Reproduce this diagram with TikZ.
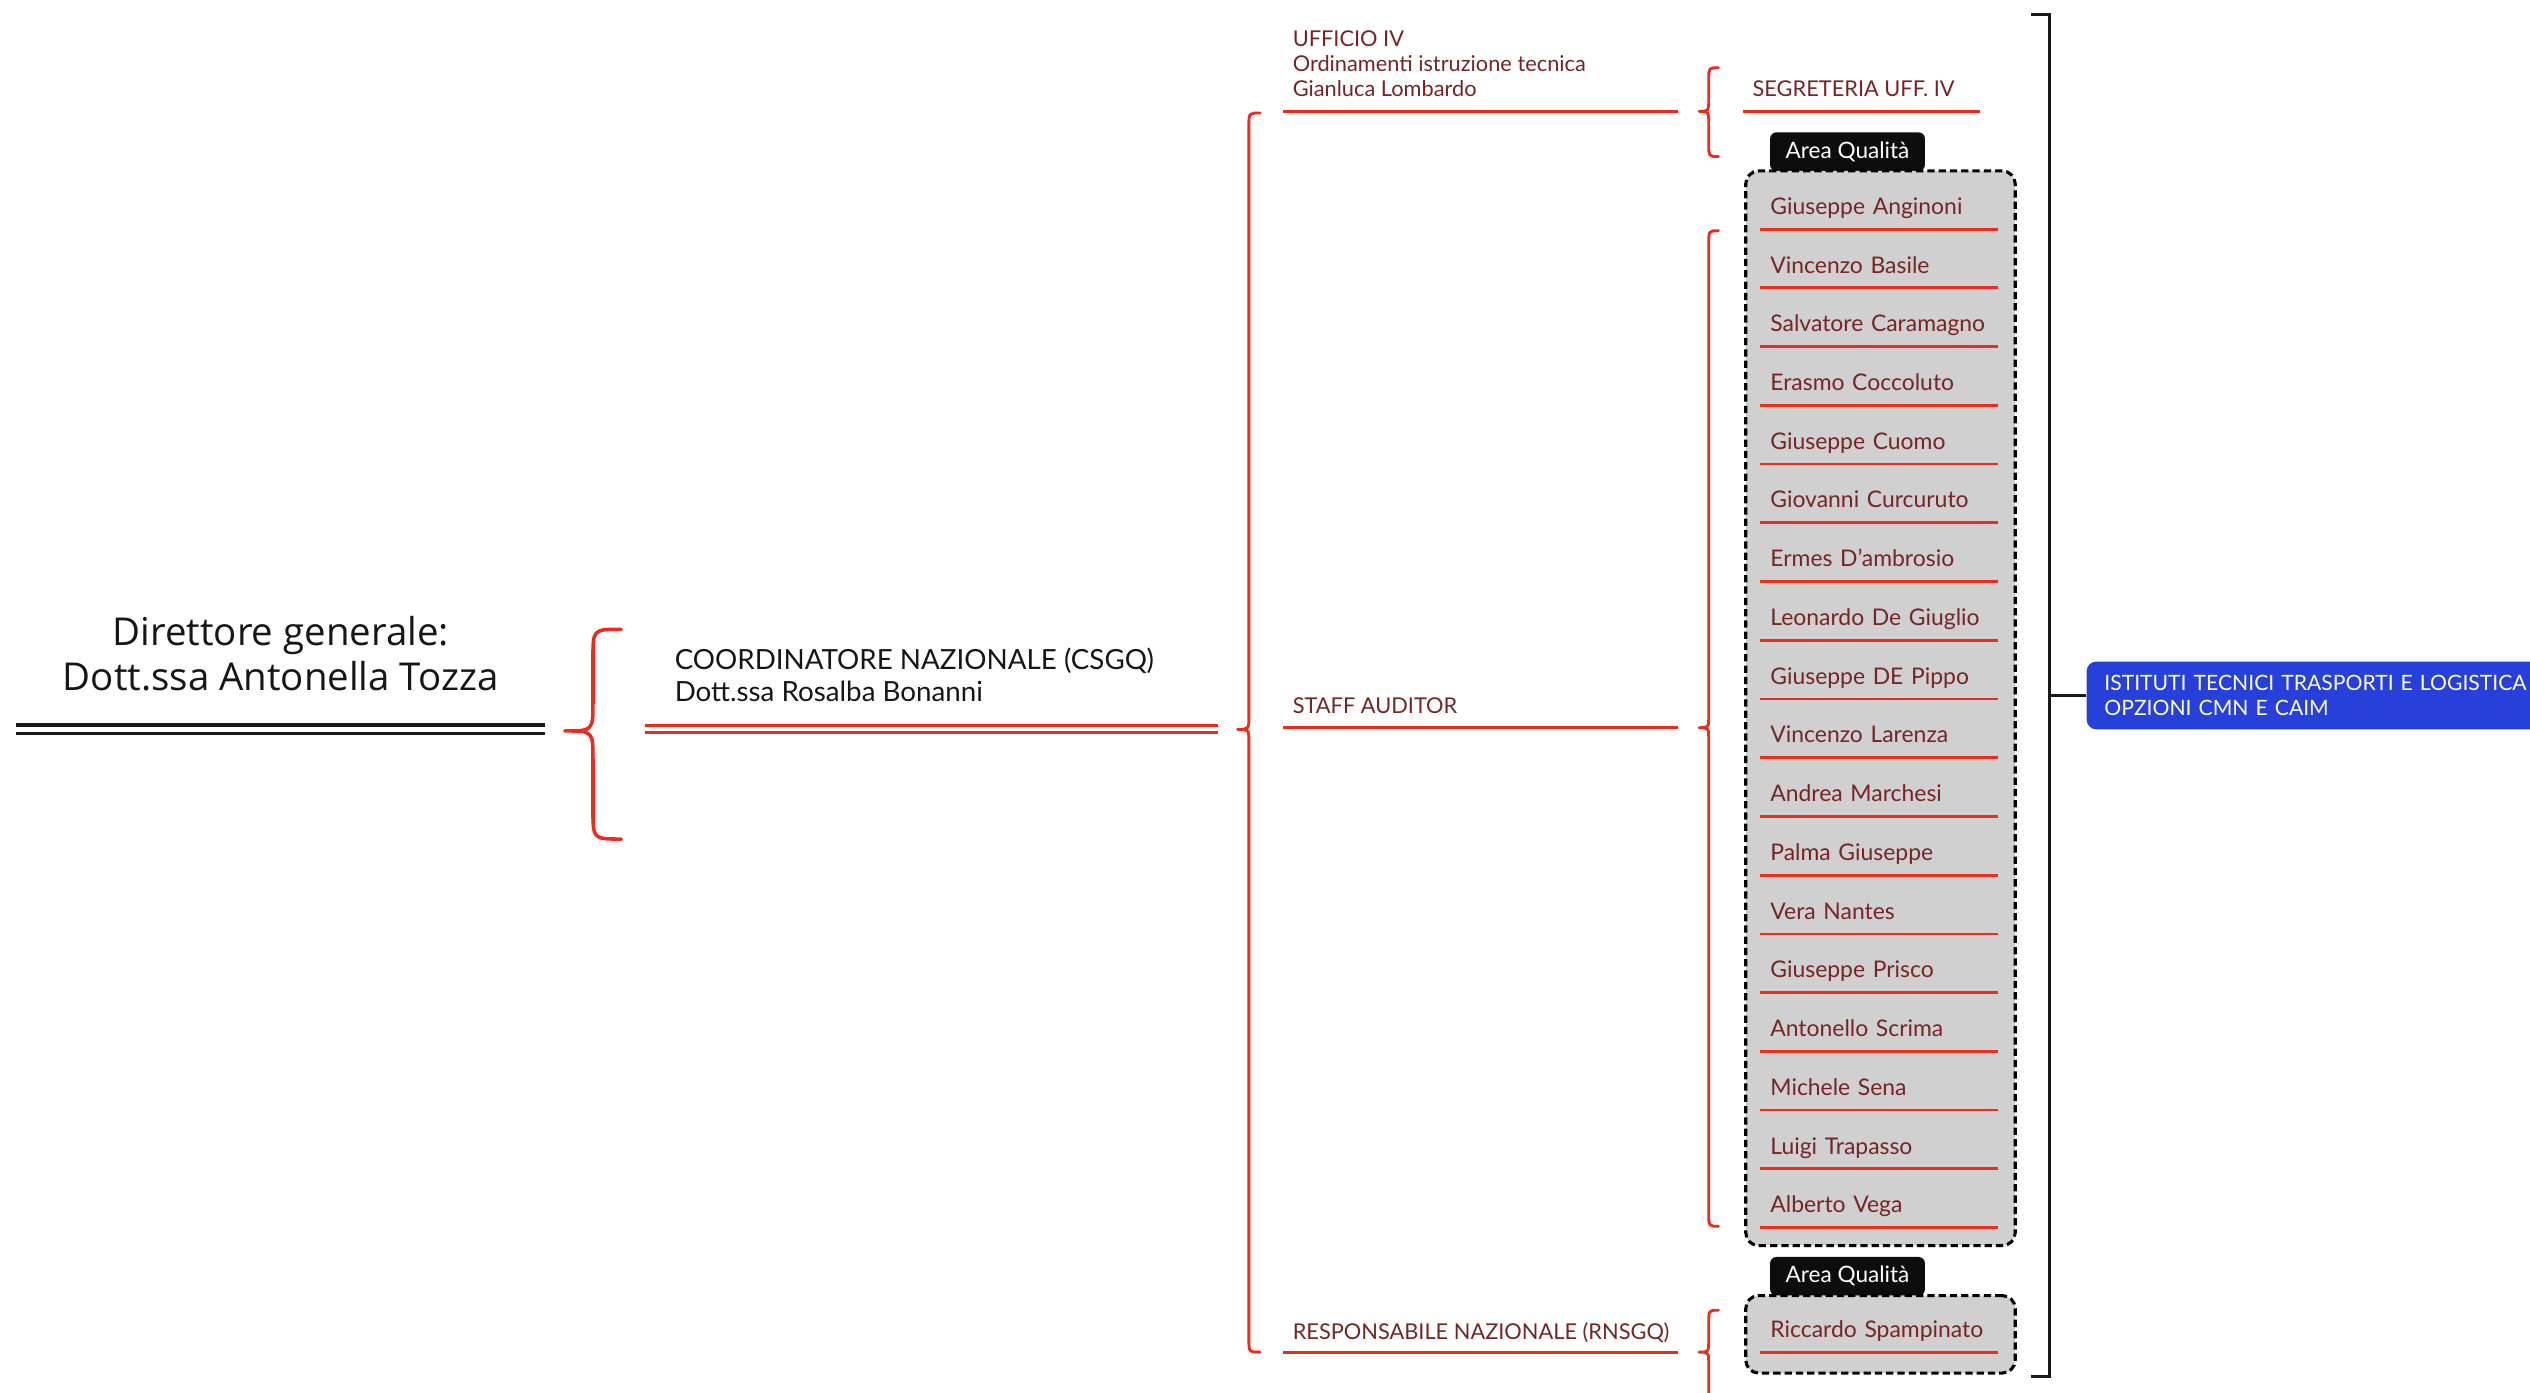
\documentclass[tikz,border=0pt]{standalone}
\usepackage{fontspec}
\setmainfont{Lato}
\newfontfamily\osans{Open Sans}
\definecolor{lnred}{RGB}{236,44,30}
\definecolor{txred}{RGB}{118,36,36}
\definecolor{boxgray}{RGB}{208,208,208}
\definecolor{blueb}{RGB}{38,64,217}
\definecolor{ink}{RGB}{22,22,22}
% #1 tip x, #2 end x, #3 top y, #4 tip y, #5 bottom y, #6 radius, #7 width
\newcommand\mybrace[7]{%
  \draw[lnred,line width=#7,line cap=round,line join=round]
    (#2,#3) .. controls ({(#1+#2)/2},#3) .. ({(#1+#2)/2},{#3+#6})
    -- ({(#1+#2)/2},{#4-#6}) .. controls ({(#1+#2)/2},#4) .. (#1,#4)
    .. controls ({(#1+#2)/2},#4) .. ({(#1+#2)/2},{#4+#6})
    -- ({(#1+#2)/2},{#5-#6}) .. controls ({(#1+#2)/2},#5) .. (#2,#5);}
\begin{document}
\begin{tikzpicture}[x=1pt,y=-1pt,
  redln/.style={lnred,line width=1.7pt},
  lbl/.style={anchor=base west,inner sep=0pt,text=txred,font=\fontsize{13.5}{15.5}\selectfont,align=left},
  person/.style={anchor=south west,inner xsep=6pt,inner ysep=0pt,text height=10pt,text depth=9pt,
    text width=135pt,align=left,text=txred,font=\fontsize{14.2}{16}\selectfont},
  gbox/.style={draw=black,fill=boxgray,line width=1.9pt,dash pattern=on 4.5pt off 2.5pt,rounded corners=8pt,
    anchor=north west,inner sep=0pt,minimum width=167pt},
  tabq/.style={fill=black!95,text=white,rounded corners=4pt,minimum width=96pt,minimum height=24pt,inner sep=0pt,
    font=\fontsize{14}{15}\selectfont},
  blk/.style={black!90,line width=1.8pt}]
\useasboundingbox (0,0) rectangle (1568,863);
\clip (0,0) rectangle (1568,863);

% ---- root
\node[anchor=base,align=center,text=ink,inner sep=0pt,font=\osans\fontsize{23.8}{28}\selectfont] (root) at (174,428)
  {Direttore generale:\\Dott.ssa Antonella Tozza};
\coordinate (rootL) at (10,449.5);
\coordinate (rootR) at (338,449.5);
\draw[blk,line width=2.3pt] (rootL) -- (rootR);
\draw[blk,line width=2.3pt] ([yshift=-5pt]rootL) -- ([yshift=-5pt]rootR);

\mybrace{350}{385}{390}{453}{520}{18}{2.2pt}

% ---- coordinator
\node[anchor=base west,align=left,text=ink,inner sep=0pt,font=\fontsize{17.2}{20}\selectfont] (coord) at (418,435)
  {COORDINATORE NAZIONALE (CSGQ)\\Dott.ssa Rosalba Bonanni};
\coordinate (coL) at (400,449.5);
\coordinate (coR) at (755,449.5);
\draw[redln] (coL) -- (coR);
\draw[redln] ([yshift=-4.5pt]coL) -- ([yshift=-4.5pt]coR);

\mybrace{767}{781}{70}{452}{838}{8}{1.8pt}

% ---- branches
\node[lbl] (uff) at (801,60) {UFFICIO IV\\Ordinamenti istruzione tecnica\\Gianluca Lombardo};
\coordinate (uffL) at (795,69); \coordinate (uffR) at (1040,69);
\draw[redln] (uffL) -- (uffR);

\node[lbl] (staff) at (801,442) {STAFF AUDITOR};
\coordinate (stL) at (795,451); \coordinate (stR) at (1040,451);
\draw[redln] (stL) -- (stR);

\node[lbl] (resp) at (801,830) {RESPONSABILE NAZIONALE (RNSGQ)};
\coordinate (reL) at (795,838); \coordinate (reR) at (1040,838);
\draw[redln] (reL) -- (reR);

% ---- braces to children
\mybrace{1053}{1065}{42}{69}{97}{7}{1.8pt}
\mybrace{1053}{1065}{143}{451}{760}{8}{1.8pt}
\mybrace{1053}{1065}{812}{838}{900}{8}{1.8pt}

% ---- segreteria
\node[lbl] (segr) at (1086,60) {SEGRETERIA UFF. IV};
\coordinate (sgL) at (1080,69); \coordinate (sgR) at (1227,69);
\draw[redln] (sgL) -- (sgR);

% ---- area qualita box 1
\node[tabq] (tab1) at (1145,94) {Area Qualità};
\node[gbox,minimum height=666pt] (box1) at (1081,105) {};
\foreach \nm [count=\i from 0] in {Giuseppe Anginoni,Vincenzo Basile,Salvatore Caramagno,Erasmo Coccoluto,
  Giuseppe Cuomo,Giovanni Curcuruto,Ermes D{\char"27}ambrosio,Leonardo De Giuglio,Giuseppe DE Pippo,
  Vincenzo Larenza,Andrea Marchesi,Palma Giuseppe,Vera Nantes,Giuseppe Prisco,Antonello Scrima,
  Michele Sena,Luigi Trapasso,Alberto Vega}{
  \pgfmathsetmacro\yl{142+36.4*\i}
  \node[person] (p\i) at (1091,\yl) {\nm};
  \draw[redln] (p\i.south west) -- (p\i.south east);
}

% ---- area qualita box 2
\node[tabq] (tab2) at (1145,791) {Area Qualità};
\node[gbox,minimum height=48pt] (box2) at (1081,802) {};
\node[person] (rs) at (1091,838) {Riccardo Spampinato};
\draw[redln] (rs.south west) -- (rs.south east);

% ---- right bracket and topic
\coordinate (brT) at (1259,9);
\coordinate (brB) at (1259,853);
\draw[blk,line join=miter] (brT) -- (1270,9) -- (1270,853) -- (brB);
\node[fill=blueb,rounded corners=6pt,anchor=west,minimum height=42pt,text width=300pt,inner xsep=11pt,
  align=left,text=white,font=\fontsize{13.1}{16}\selectfont] (topic) at (1293,431)
  {ISTITUTI TECNICI TRASPORTI E LOGISTICA\\OPZIONI CMN E CAIM};
\draw[blk] (1270,431) -- (topic.west);
\end{tikzpicture}
\end{document}
